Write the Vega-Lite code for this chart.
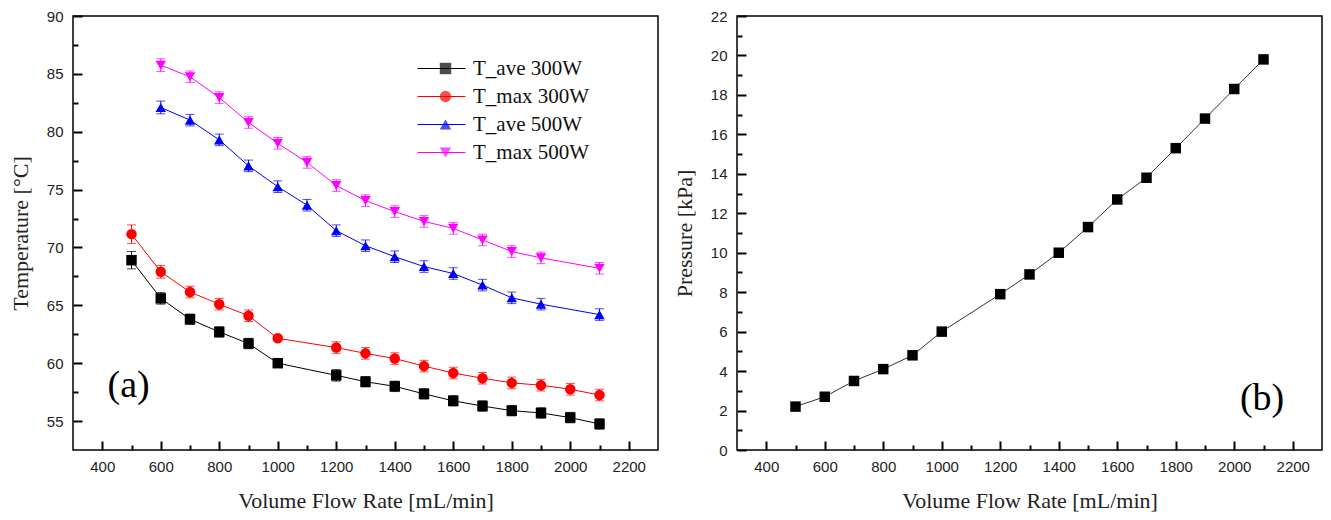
{
  "$schema": "https://vega.github.io/schema/vega-lite/v6.json",
  "padding": {"left": 8, "top": 8, "right": 5, "bottom": 5},
  "spacing": 13,
  "config": {
    "view": {"stroke": "#000", "strokeWidth": 1.5},
    "axis": {
      "grid": false, "domain": false, "ticks": true, "tickColor": "#000", "tickWidth": 2, "tickCap": "butt",
      "labelFont": "Liberation Sans", "labelFontSize": 15, "labelColor": "#222",
      "titleFont": "Liberation Serif", "titleFontSize": 22, "titleFontWeight": "normal", "titleColor": "#222"
    }
  },
  "hconcat": [
    {
      "width": 585, "height": 434,
      "data": {"values": [
        {"flow": 500, "series": "T_ave 300W", "T": 68.9, "e": 0.75},
        {"flow": 600, "series": "T_ave 300W", "T": 65.6, "e": 0.5},
        {"flow": 700, "series": "T_ave 300W", "T": 63.8, "e": 0.45},
        {"flow": 800, "series": "T_ave 300W", "T": 62.7, "e": 0.45},
        {"flow": 900, "series": "T_ave 300W", "T": 61.7, "e": 0.45},
        {"flow": 1000, "series": "T_ave 300W", "T": 60.0, "e": 0.2},
        {"flow": 1200, "series": "T_ave 300W", "T": 58.95, "e": 0.5},
        {"flow": 1300, "series": "T_ave 300W", "T": 58.4, "e": 0.45},
        {"flow": 1400, "series": "T_ave 300W", "T": 58.0, "e": 0.45},
        {"flow": 1500, "series": "T_ave 300W", "T": 57.35, "e": 0.45},
        {"flow": 1600, "series": "T_ave 300W", "T": 56.75, "e": 0.45},
        {"flow": 1700, "series": "T_ave 300W", "T": 56.3, "e": 0.45},
        {"flow": 1800, "series": "T_ave 300W", "T": 55.9, "e": 0.45},
        {"flow": 1900, "series": "T_ave 300W", "T": 55.7, "e": 0.45},
        {"flow": 2000, "series": "T_ave 300W", "T": 55.3, "e": 0.45},
        {"flow": 2100, "series": "T_ave 300W", "T": 54.75, "e": 0.45},
        {"flow": 500, "series": "T_max 300W", "T": 71.15, "e": 0.8},
        {"flow": 600, "series": "T_max 300W", "T": 67.9, "e": 0.55},
        {"flow": 700, "series": "T_max 300W", "T": 66.15, "e": 0.5},
        {"flow": 800, "series": "T_max 300W", "T": 65.1, "e": 0.5},
        {"flow": 900, "series": "T_max 300W", "T": 64.1, "e": 0.5},
        {"flow": 1000, "series": "T_max 300W", "T": 62.15, "e": 0.2},
        {"flow": 1200, "series": "T_max 300W", "T": 61.35, "e": 0.5},
        {"flow": 1300, "series": "T_max 300W", "T": 60.85, "e": 0.5},
        {"flow": 1400, "series": "T_max 300W", "T": 60.4, "e": 0.5},
        {"flow": 1500, "series": "T_max 300W", "T": 59.75, "e": 0.5},
        {"flow": 1600, "series": "T_max 300W", "T": 59.15, "e": 0.5},
        {"flow": 1700, "series": "T_max 300W", "T": 58.7, "e": 0.5},
        {"flow": 1800, "series": "T_max 300W", "T": 58.3, "e": 0.5},
        {"flow": 1900, "series": "T_max 300W", "T": 58.1, "e": 0.5},
        {"flow": 2000, "series": "T_max 300W", "T": 57.75, "e": 0.5},
        {"flow": 2100, "series": "T_max 300W", "T": 57.25, "e": 0.5},
        {"flow": 600, "series": "T_ave 500W", "T": 82.1, "e": 0.55},
        {"flow": 700, "series": "T_ave 500W", "T": 81.0, "e": 0.5},
        {"flow": 800, "series": "T_ave 500W", "T": 79.3, "e": 0.5},
        {"flow": 900, "series": "T_ave 500W", "T": 77.05, "e": 0.5},
        {"flow": 1000, "series": "T_ave 500W", "T": 75.25, "e": 0.5},
        {"flow": 1100, "series": "T_ave 500W", "T": 73.65, "e": 0.5},
        {"flow": 1200, "series": "T_ave 500W", "T": 71.45, "e": 0.5},
        {"flow": 1300, "series": "T_ave 500W", "T": 70.15, "e": 0.5},
        {"flow": 1400, "series": "T_ave 500W", "T": 69.2, "e": 0.5},
        {"flow": 1500, "series": "T_ave 500W", "T": 68.35, "e": 0.5},
        {"flow": 1600, "series": "T_ave 500W", "T": 67.75, "e": 0.5},
        {"flow": 1700, "series": "T_ave 500W", "T": 66.75, "e": 0.5},
        {"flow": 1800, "series": "T_ave 500W", "T": 65.65, "e": 0.5},
        {"flow": 1900, "series": "T_ave 500W", "T": 65.1, "e": 0.5},
        {"flow": 2100, "series": "T_ave 500W", "T": 64.2, "e": 0.5},
        {"flow": 600, "series": "T_max 500W", "T": 85.75, "e": 0.55},
        {"flow": 700, "series": "T_max 500W", "T": 84.75, "e": 0.5},
        {"flow": 800, "series": "T_max 500W", "T": 82.95, "e": 0.5},
        {"flow": 900, "series": "T_max 500W", "T": 80.8, "e": 0.5},
        {"flow": 1000, "series": "T_max 500W", "T": 79.0, "e": 0.5},
        {"flow": 1100, "series": "T_max 500W", "T": 77.35, "e": 0.5},
        {"flow": 1200, "series": "T_max 500W", "T": 75.35, "e": 0.5},
        {"flow": 1300, "series": "T_max 500W", "T": 74.05, "e": 0.5},
        {"flow": 1400, "series": "T_max 500W", "T": 73.1, "e": 0.5},
        {"flow": 1500, "series": "T_max 500W", "T": 72.25, "e": 0.5},
        {"flow": 1600, "series": "T_max 500W", "T": 71.65, "e": 0.5},
        {"flow": 1700, "series": "T_max 500W", "T": 70.65, "e": 0.5},
        {"flow": 1800, "series": "T_max 500W", "T": 69.65, "e": 0.5},
        {"flow": 1900, "series": "T_max 500W", "T": 69.1, "e": 0.5},
        {"flow": 2100, "series": "T_max 500W", "T": 68.2, "e": 0.5}
      ]},
      "layer": [
        {
          "mark": {"type": "line", "strokeWidth": 1},
          "encoding": {
            "x": {"field": "flow", "type": "quantitative", "scale": {"domain": [300, 2300], "nice": false, "zero": false},
              "axis": {"orient": "bottom", "values": [400, 600, 800, 1000, 1200, 1400, 1600, 1800, 2000, 2200], "format": "d", "offset": -9, "tickSize": 9, "labelPadding": 9, "title": "Volume Flow Rate [mL/min]", "titlePadding": 16}},
            "y": {"field": "T", "type": "quantitative", "scale": {"domain": [52.5, 90], "nice": false, "zero": false},
              "axis": {"orient": "left", "values": [55, 60, 65, 70, 75, 80, 85, 90], "offset": -9, "tickSize": 9, "labelPadding": 10, "title": "Temperature [°C]", "titlePadding": 14}},
            "stroke": {"field": "series", "type": "nominal", "sort": ["T_ave 300W", "T_max 300W", "T_ave 500W", "T_max 500W"],
              "scale": {"range": ["#000000", "#ff0000", "#0000ff", "#ff00ff"]},
              "legend": {"title": null, "orient": "none", "legendX": 344, "legendY": 42, "symbolType": "stroke", "symbolSize": 2304, "symbolStrokeWidth": 1, "clipHeight": 21, "rowPadding": 6, "labelOffset": 7, "labelFont": "Liberation Serif", "labelFontSize": 21, "labelColor": "#111"}}
          }
        },
        {
          "mark": {"type": "errorbar", "ticks": {"size": 9}, "thickness": 1},
          "encoding": {
            "x": {"field": "flow", "type": "quantitative", "axis": null},
            "y": {"field": "T", "type": "quantitative", "axis": null},
            "yError": {"field": "e"},
            "color": {"field": "series", "type": "nominal",
              "scale": {"domain": ["T_ave 300W", "T_max 300W", "T_ave 500W", "T_max 500W"], "range": ["#000000", "#ff0000", "#0000ff", "#ff00ff"]}}
          }
        },
        {
          "mark": {"type": "point", "filled": true, "size": 110, "opacity": 1},
          "encoding": {
            "x": {"field": "flow", "type": "quantitative",
              "axis": {"orient": "bottom", "values": [500, 700, 900, 1100, 1300, 1500, 1700, 1900, 2100], "offset": -5, "tickSize": 5, "labels": false, "title": null}},
            "y": {"field": "T", "type": "quantitative",
              "axis": {"orient": "left", "values": [57.5, 62.5, 67.5, 72.5, 77.5, 82.5, 87.5], "offset": -5, "tickSize": 5, "labels": false, "title": null}},
            "color": {"field": "series", "type": "nominal",
              "legend": {"title": null, "orient": "none", "legendX": 362, "legendY": 42, "labelFont": "Liberation Serif", "labelFontSize": 21, "labelExpr": "''", "symbolSize": 130, "clipHeight": 21, "rowPadding": 6, "labelOffset": 7, "symbolStrokeWidth": 0, "symbolOpacity": 1}},
            "shape": {"field": "series", "type": "nominal",
              "scale": {"domain": ["T_ave 300W", "T_max 300W", "T_ave 500W", "T_max 500W"], "range": ["square", "circle", "triangle-up", "triangle-down"]},
              "legend": {"title": null, "orient": "none", "legendX": 362, "legendY": 42, "labelFont": "Liberation Serif", "labelFontSize": 21, "labelExpr": "''", "symbolSize": 130, "clipHeight": 21, "rowPadding": 6, "labelOffset": 7, "symbolStrokeWidth": 0, "symbolOpacity": 1}}
          }
        },
        {
          "data": {"values": [{"label": "(a)"}]},
          "mark": {"type": "text", "font": "Liberation Serif", "fontSize": 38, "color": "#000"},
          "encoding": {
            "x": {"datum": 490, "type": "quantitative", "axis": null},
            "y": {"datum": 58.0, "type": "quantitative", "axis": null},
            "text": {"field": "label"}
          }
        }
      ],
      "resolve": {"axis": {"x": "independent", "y": "independent"}}
    },
    {
      "width": 585, "height": 434,
      "data": {"values": [
        {"flow": 500, "P": 2.2},
        {"flow": 600, "P": 2.7},
        {"flow": 700, "P": 3.5},
        {"flow": 800, "P": 4.1},
        {"flow": 900, "P": 4.8},
        {"flow": 1000, "P": 6.0},
        {"flow": 1200, "P": 7.9},
        {"flow": 1300, "P": 8.9},
        {"flow": 1400, "P": 10.0},
        {"flow": 1500, "P": 11.3},
        {"flow": 1600, "P": 12.7},
        {"flow": 1700, "P": 13.8},
        {"flow": 1800, "P": 15.3},
        {"flow": 1900, "P": 16.8},
        {"flow": 2000, "P": 18.3},
        {"flow": 2100, "P": 19.8}
      ]},
      "layer": [
        {
          "mark": {"type": "line", "strokeWidth": 1, "color": "#333"},
          "encoding": {
            "x": {"field": "flow", "type": "quantitative", "scale": {"domain": [300, 2300], "nice": false, "zero": false},
              "axis": {"orient": "bottom", "values": [400, 600, 800, 1000, 1200, 1400, 1600, 1800, 2000, 2200], "format": "d", "offset": -9, "tickSize": 9, "labelPadding": 9, "title": "Volume Flow Rate [mL/min]", "titlePadding": 16}},
            "y": {"field": "P", "type": "quantitative", "scale": {"domain": [0, 22], "nice": false},
              "axis": {"orient": "left", "values": [0, 2, 4, 6, 8, 10, 12, 14, 16, 18, 20, 22], "offset": -9, "tickSize": 9, "labelPadding": 10, "title": "Pressure [kPa]", "titlePadding": 14}}
          }
        },
        {
          "mark": {"type": "square", "filled": true, "size": 110, "color": "#000", "opacity": 1},
          "encoding": {
            "x": {"field": "flow", "type": "quantitative",
              "axis": {"orient": "bottom", "values": [500, 700, 900, 1100, 1300, 1500, 1700, 1900, 2100], "offset": -5, "tickSize": 5, "labels": false, "title": null}},
            "y": {"field": "P", "type": "quantitative",
              "axis": {"orient": "left", "values": [1, 3, 5, 7, 9, 11, 13, 15, 17, 19, 21], "offset": -5, "tickSize": 5, "labels": false, "title": null}}
          }
        },
        {
          "data": {"values": [{"label": "(b)"}]},
          "mark": {"type": "text", "font": "Liberation Serif", "fontSize": 38, "color": "#000"},
          "encoding": {
            "x": {"datum": 2095, "type": "quantitative", "axis": null},
            "y": {"datum": 2.6, "type": "quantitative", "axis": null},
            "text": {"field": "label"}
          }
        }
      ],
      "resolve": {"axis": {"x": "independent", "y": "independent"}}
    }
  ]
}
